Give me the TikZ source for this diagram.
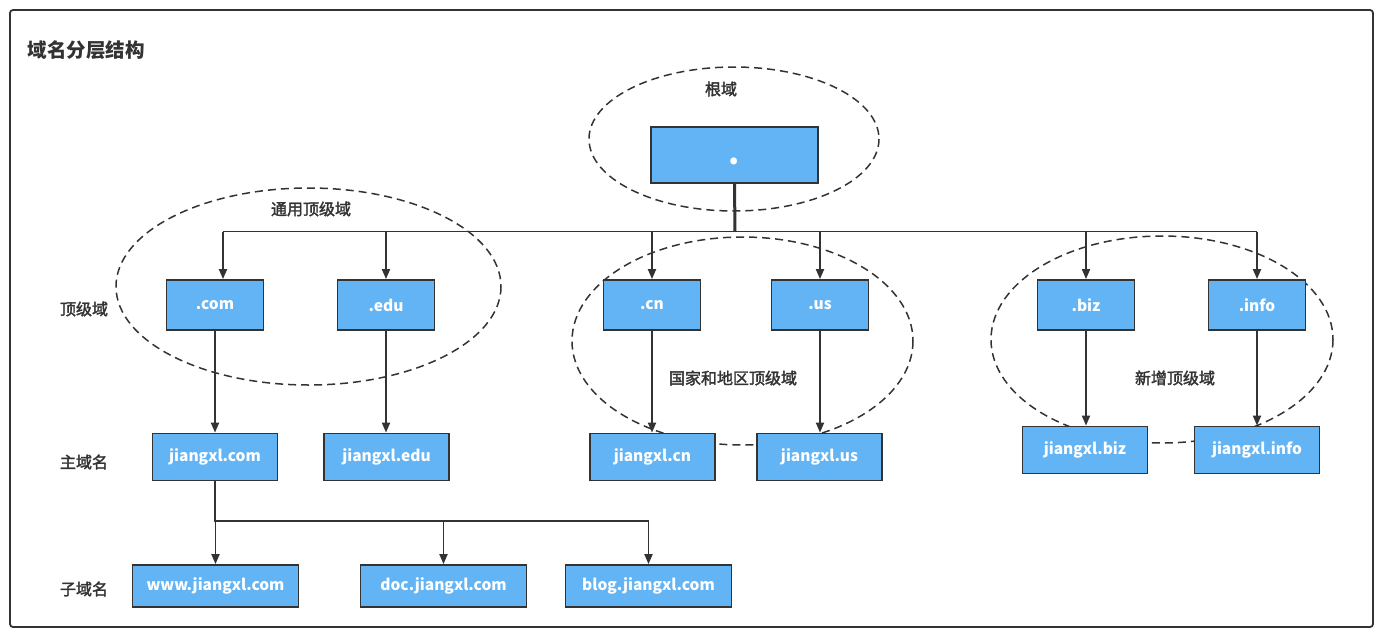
\documentclass[tikz,border=0pt]{standalone}
\usepackage{fontspec}
\setmainfont{Noto Sans CJK SC}
\newfontfamily\midfont{Noto Sans CJK SC}[FakeBold=2]
\usepackage{tikz}
\usetikzlibrary{arrows.meta}

\definecolor{boxblue}{HTML}{63B4F5}
\definecolor{inkgray}{HTML}{333333}

\begin{document}
\begin{tikzpicture}[
x=1pt, y=-1pt,
box/.style={draw=inkgray, line width=1.8pt, fill=boxblue, text=white, inner sep=0pt, font=\fontsize{15.5}{18}\selectfont\bfseries},
tld/.style={box, minimum width=97pt, minimum height=50pt},
sld/.style={box, minimum width=125pt, minimum height=47pt},
sub/.style={box, minimum width=166pt, minimum height=42pt},
level/.style={text=inkgray, font=\fontsize{16}{19}\selectfont\midfont},
group/.style={draw=inkgray, line width=1.5pt, dash pattern=on 8pt off 5pt},
link/.style={draw=inkgray, line width=1.9pt},
arrow/.style={link, -{Triangle[length=10pt,width=8pt]}}
]
\useasboundingbox (0,0) rectangle (1385,635);
\draw[draw=inkgray, line width=1.8pt, rounded corners=3pt] (10,10) rectangle (1373,627);

% groups
\draw[group] (734,139) ellipse [x radius=145, y radius=72];
\draw[group] (308.5,286.5) ellipse [x radius=192.5, y radius=98.5];
\draw[group] (742.5,341) ellipse [x radius=170.5, y radius=104];
\draw[group] (1162,339.5) ellipse [x radius=171, y radius=103.5];

% labels
\node[text=inkgray, font=\fontsize{19.5}{22}\selectfont\bfseries, anchor=west] (title) at (24,50) {域名分层结构};
\node[level] (rootlabel) at (721,89) {根域};
\node[level] (genlabel) at (311,209) {通用顶级域};
\node[level] (cclabel) at (733,378) {国家和地区顶级域};
\node[level] (newlabel) at (1175,378) {新增顶级域};
\node[level] (toprow) at (84,309) {顶级域};
\node[level] (mainrow) at (84,462) {主域名};
\node[level] (subrow) at (84,589) {子域名};

% root
\node[box, minimum width=167pt, minimum height=56pt, text height=19pt, text depth=0pt, font=\fontsize{32}{32}\selectfont\bfseries] (root) at (734.5,155) {.};

% top level
\node[tld] (com) at (215,305) {.com};
\node[tld] (edu) at (386,305) {.edu};
\node[tld] (cn) at (652,305) {.cn};
\node[tld] (us) at (820,305) {.us};
\node[tld] (biz) at (1086,305) {.biz};
\node[tld] (info) at (1257,305) {.info};

% second level
\node[sld] (jcom) at (215,457) {jiangxl.com};
\node[sld] (jedu) at (386.5,457) {jiangxl.edu};
\node[sld] (jcn) at (652.5,457) {jiangxl.cn};
\node[sld] (jus) at (819.5,457) {jiangxl.us};
\node[sld] (jbiz) at (1085,450) {jiangxl.biz};
\node[sld] (jinfo) at (1257,450) {jiangxl.info};

% sub domains
\node[sub] (www) at (215.5,586) {www.jiangxl.com};
\node[sub] (doc) at (443.5,586) {doc.jiangxl.com};
\node[sub] (blog) at (648.5,586) {blog.jiangxl.com};

% root -> top level
\coordinate (bus) at (735,231.5);
\draw[link, line width=3pt] (root.south) -- (bus);
\draw[link] ([xshift=8pt]com.north |- bus) -- (info.north |- bus);
\draw[arrow] ([xshift=8pt]com.north |- bus) -- ([xshift=8pt]com.north);
\foreach \n in {edu,cn,us,biz,info}
  \draw[arrow] (\n.north |- bus) -- (\n);

% top level -> second level
\foreach \a/\b in {com/jcom,edu/jedu,cn/jcn,us/jus,biz/jbiz,info/jinfo}
  \draw[arrow] (\a) -- (\a.south |- \b.north);

% second level -> sub domains
\coordinate (fork) at (215,521);
\draw[link] (jcom) -- (fork) -- (blog.north |- fork);
\foreach \n in {www,doc,blog}
  \draw[arrow] (\n.north |- fork) -- (\n);
\end{tikzpicture}
\end{document}
